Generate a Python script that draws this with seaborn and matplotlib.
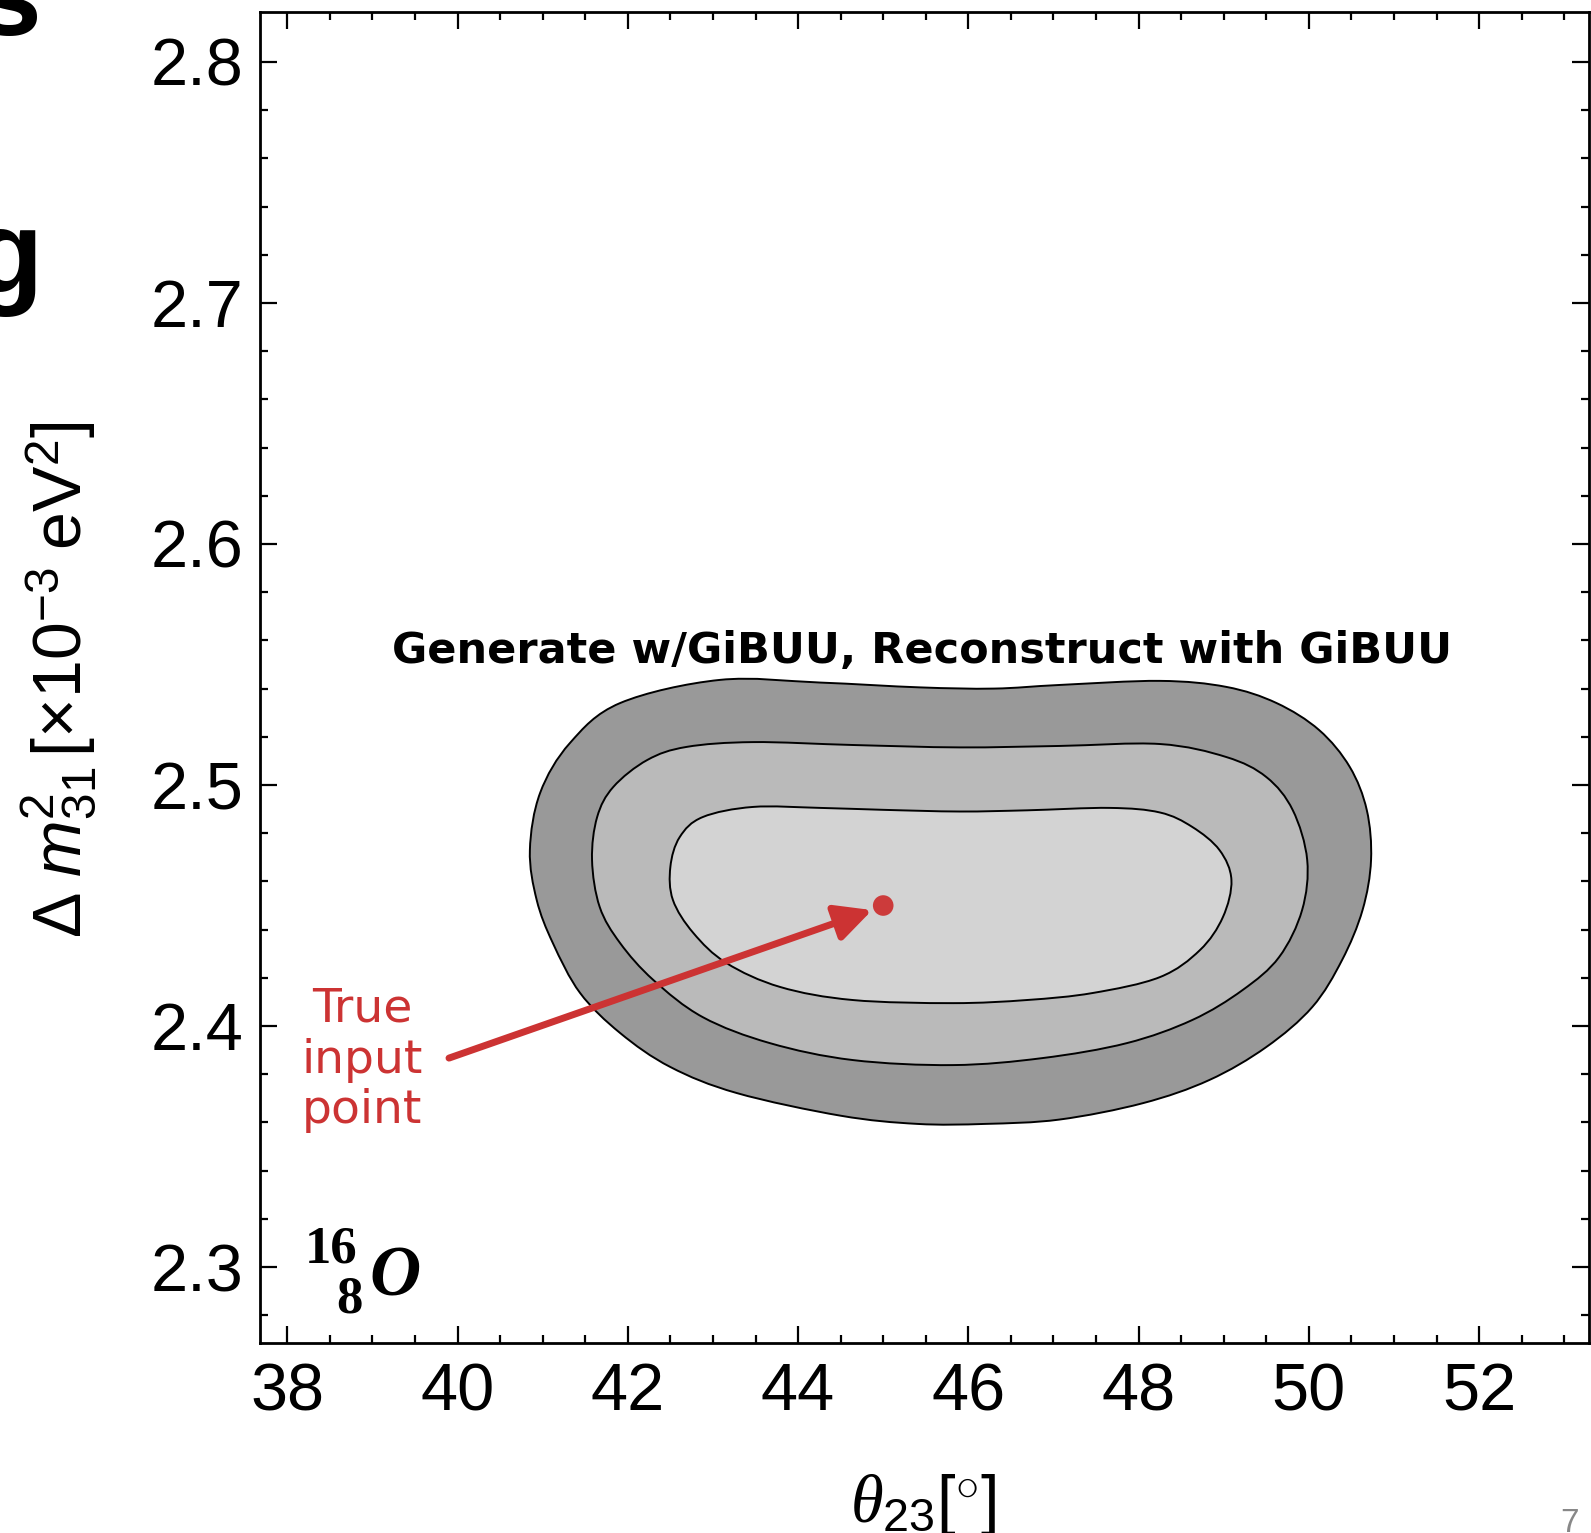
import matplotlib
matplotlib.use("Agg")
import matplotlib.pyplot as plt
from matplotlib.path import Path
from matplotlib.patches import PathPatch
import numpy as np
import seaborn as sns

# contour outlines: theta23 [deg], dm2_31 [1e-3 eV^2]
outer_theta = [43.08, 44.26, 45.43, 46.30, 47.07, 48.25, 49.03, 49.62, 50.12, 50.48,
               50.68, 50.73, 50.63, 50.39, 50.04, 49.50, 48.83, 48.05, 47.07, 46.20,
               45.40, 44.50, 43.28, 42.50, 41.91, 41.44, 41.12, 40.93, 40.85, 40.97,
               41.32, 41.91]
outer_dm2 = [2.5436, 2.5425, 2.5405, 2.5400, 2.5415, 2.5432, 2.5407, 2.5340, 2.5228, 2.5075,
             2.4896, 2.4689, 2.4481, 2.4274, 2.4079, 2.3913, 2.3776, 2.3680, 2.3612, 2.3594,
             2.3594, 2.3628, 2.3722, 2.3830, 2.3971, 2.4137, 2.4344, 2.4523, 2.4730, 2.4967,
             2.5174, 2.5340]

mid_theta = [43.47, 42.69, 42.23, 41.83, 41.64, 41.58, 41.67, 41.91, 42.30, 42.88,
             43.67, 44.64, 45.82, 46.87, 47.86, 48.63, 49.22, 49.65, 49.92, 49.98,
             49.81, 49.50, 49.03, 48.25, 47.07, 45.90, 44.64]
mid_dm2 = [2.5178, 2.5158, 2.5104, 2.4992, 2.4867, 2.4689, 2.4494, 2.4344, 2.4191, 2.4037,
           2.3929, 2.3859, 2.3838, 2.3867, 2.3929, 2.4025, 2.4149, 2.4286, 2.4481, 2.4689,
           2.4896, 2.5033, 2.5116, 2.5170, 2.5162, 2.5156, 2.5166]

inner_theta = [43.47, 42.88, 42.61, 42.50, 42.53, 42.77, 43.16, 43.79, 44.64, 45.82,
               46.69, 47.46, 48.25, 48.72, 48.99, 49.09, 48.95, 48.63, 48.25, 47.66,
               46.69, 45.90, 45.00, 44.26]
inner_dm2 = [2.4909, 2.4867, 2.4784, 2.4660, 2.4523, 2.4386, 2.4261, 2.4162, 2.4108, 2.4095,
             2.4108, 2.4137, 2.4203, 2.4315, 2.4452, 2.4606, 2.4730, 2.4826, 2.4886, 2.4905,
             2.4895, 2.4890, 2.4897, 2.4905]

true_theta = [45.0]
true_dm2 = [2.45]

x_ticks = [38, 40, 42, 44, 46, 48, 50, 52]
y_ticks = [2.3, 2.4, 2.5, 2.6, 2.7, 2.8]

sns.set_theme(style="ticks")
plt.rcParams['font.family'] = ['Liberation Sans', 'DejaVu Sans']
plt.rcParams['mathtext.fontset'] = 'custom'
plt.rcParams['mathtext.rm'] = 'Liberation Sans'
plt.rcParams['mathtext.it'] = 'Liberation Serif:italic'
plt.rcParams['mathtext.sf'] = 'Liberation Sans:italic'
plt.rcParams['text.color'] = 'black'
plt.rcParams['axes.labelcolor'] = 'black'
plt.rcParams['xtick.color'] = 'black'
plt.rcParams['ytick.color'] = 'black'

red = '#cc3333'


def smooth_region(xs, ys):
    # closed Catmull-Rom outline through the read points, drawn as bezier curves
    p = np.column_stack([xs, ys])
    n = len(p)
    verts = [p[0]]
    codes = [Path.MOVETO]
    for i in range(n):
        p0, p1, p2, p3 = p[i - 1], p[i], p[(i + 1) % n], p[(i + 2) % n]
        verts += [p1 + (p2 - p0) / 6, p2 - (p3 - p1) / 6, p2]
        codes += [Path.CURVE4] * 3
    return Path(verts, codes)


fig = plt.figure(figsize=(15.91, 15.33), dpi=100)
ax = fig.add_axes([260 / 1591, 190 / 1533, 1329 / 1591, 1331 / 1533])

# filled confidence regions, outer to inner
for xs, ys, fc in [(outer_theta, outer_dm2, '#999999'),
                   (mid_theta, mid_dm2, '#bababa'),
                   (inner_theta, inner_dm2, '#d3d3d3')]:
    ax.add_patch(PathPatch(smooth_region(xs, ys), facecolor=fc, edgecolor='black', lw=1.4))

sns.scatterplot(x=true_theta, y=true_dm2, ax=ax, color=red, s=220, edgecolor='none',
                alpha=0.95, zorder=5, legend=False)

ax.annotate('', xy=(44.87, 2.4481), xytext=(39.9, 2.3867),
            arrowprops=dict(arrowstyle='-|>', color=red, lw=5, mutation_scale=55,
                            shrinkA=0, shrinkB=0), zorder=6)

ax.text(38.88, 2.3859, 'True\ninput\npoint', color=red, fontsize=34,
        family='DejaVu Sans', ha='center', va='center', linespacing=1.17)

ax.text(45.46, 2.5556, 'Generate w/GiBUU, Reconstruct with GiBUU', fontsize=31,
        family='DejaVu Sans', fontweight='bold', ha='center', va='center', color='black')

# nucleus label
ax.text(38.21, 2.3017, '16', fontsize=38, family='Liberation Serif', fontweight='bold',
        ha='left', va='baseline')
ax.text(38.89, 2.2813, '8', fontsize=38, family='Liberation Serif', fontweight='bold',
        ha='right', va='baseline')
ax.text(38.97, 2.2884, 'O', fontsize=51, family='Liberation Serif', fontweight='bold',
        fontstyle='italic', ha='left', va='baseline')

ax.set_xticks(x_ticks)
ax.set_yticks(y_ticks)
ax.set_xticklabels([str(t) for t in x_ticks])
ax.set_yticklabels([f'{t:.1f}' for t in y_ticks])
ax.set_xticks(np.arange(37.5, 53.5, 0.5), minor=True)
ax.set_yticks(np.arange(2.28, 2.82, 0.02), minor=True)
ax.set_xlim(37.68, 53.29)
ax.set_ylim(2.2685, 2.8207)

ax.tick_params(which='both', direction='in', top=True, right=True, width=1.6, color='black')
ax.tick_params(which='major', length=12.5)
ax.tick_params(which='minor', length=6)
ax.tick_params(axis='y', which='major', labelsize=48, pad=12, labelcolor='black')
ax.tick_params(axis='x', which='major', labelsize=48, pad=14, labelcolor='black')
for sp in ax.spines.values():
    sp.set_linewidth(2.0)
    sp.set_color('black')

ax.set_xlabel(r'$\theta_{23}[^{\circ}]$', fontsize=48)
ax.xaxis.label.set_va('baseline')
ax.xaxis.set_label_coords(0.4989, -0.1345)

ax.set_ylabel(r'$\Delta\ \mathsf{m}^2_{31}\,[\times 10^{-3}\ \mathrm{eV}^2]$', fontsize=49)
ax.yaxis.label.set_va('center')
ax.yaxis.set_label_coords(-0.1505, 0.498)

# bits of the slide around the plot
fig.text(42 / 1591, 1 - 35 / 1533, 's', fontsize=84, fontweight='bold', ha='right',
         va='baseline', color='black')
fig.text(42 / 1591, 1 - 292 / 1533, 'g', fontsize=84, fontweight='bold', ha='right',
         va='baseline', color='black')
fig.text(1570 / 1591, 1 - 1508 / 1533, '7', fontsize=24, color='#888888', ha='center',
         va='top')

fig.savefig('out.png', dpi=100)
